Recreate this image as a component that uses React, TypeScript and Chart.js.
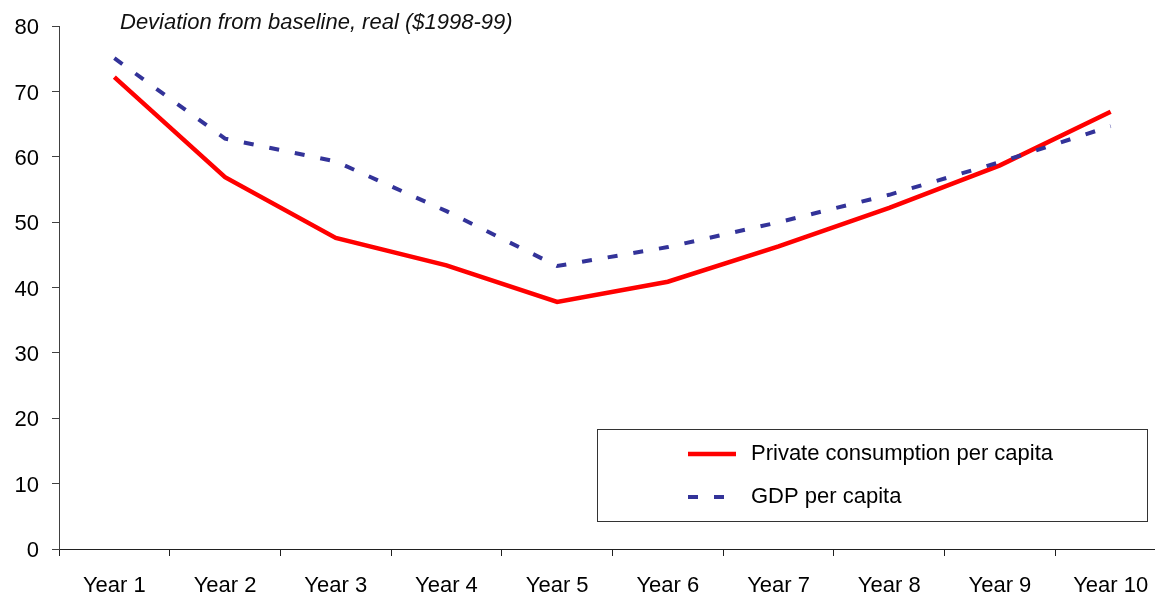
import { useEffect, useRef } from 'react';
import { Chart, registerables } from 'chart.js';

Chart.register(...registerables);

const FONT = '"Liberation Sans", Arial, sans-serif';

const years = ['Year 1', 'Year 2', 'Year 3', 'Year 4', 'Year 5', 'Year 6', 'Year 7', 'Year 8', 'Year 9', 'Year 10'];
const privateConsumption = [72.2, 56.9, 47.6, 43.4, 37.8, 40.9, 46.3, 52.2, 58.7, 66.9];
const gdpPerCapita = [75.1, 62.8, 59.3, 51.7, 43.3, 46.2, 50.0, 54.2, 59.2, 64.7];
const yMin = 0;
const yMax = 80;
const yStep = 10;
const subtitle = 'Deviation from baseline, real ($1998-99)';

// Italic note drawn just above the top of the plot area
const subtitlePlugin = {
  id: 'subtitleText',
  afterDraw(chart: any) {
    const ctx = chart.ctx as CanvasRenderingContext2D;
    ctx.save();
    ctx.font = `italic 22px ${FONT}`;
    ctx.fillStyle = '#111';
    ctx.textBaseline = 'middle';
    ctx.textAlign = 'left';
    ctx.fillText(subtitle, chart.chartArea.left + 61, chart.chartArea.top - 3);
    ctx.restore();
  },
};

// Boxed legend sitting inside the lower-right of the plot
const legendBoxPlugin = {
  id: 'legendBox',
  afterDraw(chart: any) {
    const ctx = chart.ctx as CanvasRenderingContext2D;
    const x = 597;
    const y = 429;
    const w = 550;
    const h = 92;
    ctx.save();
    ctx.fillStyle = '#fff';
    ctx.fillRect(x, y, w, h);
    ctx.strokeStyle = '#333';
    ctx.lineWidth = 1;
    ctx.strokeRect(x + 0.5, y + 0.5, w, h);
    chart.data.datasets.forEach((ds: any, i: number) => {
      const cy = y + 25 + i * 43;
      ctx.beginPath();
      ctx.lineCap = 'butt';
      ctx.setLineDash(ds.borderDash || []);
      ctx.lineWidth = ds.borderWidth;
      ctx.strokeStyle = ds.borderColor;
      ctx.moveTo(688, cy);
      ctx.lineTo(ds.borderDash ? 726 : 736, cy);
      ctx.stroke();
      ctx.setLineDash([]);
      ctx.fillStyle = '#000';
      ctx.font = `22px ${FONT}`;
      ctx.textBaseline = 'middle';
      ctx.textAlign = 'left';
      ctx.fillText(ds.label, 751, cy);
    });
    ctx.restore();
  },
};

export default function App() {
  const ref = useRef<HTMLCanvasElement>(null);

  useEffect(() => {
    document.body.style.margin = '0';
    document.body.style.overflow = 'hidden';
    const chart = new Chart(ref.current!, {
      type: 'line',
      data: {
        labels: years,
        datasets: [
          {
            label: 'Private consumption per capita',
            data: privateConsumption,
            borderColor: '#FF0000',
            borderWidth: 4.5,
            pointRadius: 0,
            tension: 0,
            fill: false,
            order: 1,
          },
          {
            label: 'GDP per capita',
            data: gdpPerCapita,
            borderColor: '#333399',
            borderWidth: 4,
            borderDash: [10, 16],
            borderCapStyle: 'butt',
            pointRadius: 0,
            tension: 0,
            fill: false,
            order: 0,
          },
        ],
      },
      options: {
        responsive: false,
        animation: false,
        layout: { padding: { top: 26, right: 14, left: 0, bottom: 0 } },
        plugins: {
          legend: { display: false },
          tooltip: { enabled: false },
        },
        scales: {
          x: {
            type: 'category',
            offset: true,
            grid: {
              display: true,
              drawOnChartArea: false,
              drawTicks: true,
              tickLength: 7,
              color: '#202020',
              offset: true,
            },
            border: { display: true, color: '#202020', width: 1 },
            ticks: {
              font: { family: FONT, size: 22 },
              color: '#000',
              padding: 17,
              maxRotation: 0,
              autoSkip: false,
            },
            afterFit: (s: any) => {
              s.height = 44;
            },
          },
          y: {
            min: yMin,
            max: yMax,
            grid: {
              display: true,
              drawOnChartArea: false,
              drawTicks: true,
              tickLength: 7,
              color: '#404040',
            },
            border: { display: true, color: '#404040', width: 1 },
            ticks: {
              stepSize: yStep,
              font: { family: FONT, size: 22 },
              color: '#000',
              padding: 13,
              labelOffset: 2,
            },
            afterFit: (s: any) => {
              s.width = 59;
            },
          },
        },
      },
      plugins: [subtitlePlugin, legendBoxPlugin],
    });
    return () => chart.destroy();
  }, []);

  return (
    <div style={{ position: 'relative', width: 1180, height: 593 }}>
      <canvas ref={ref} width={1180} height={593} />
    </div>
  );
}
